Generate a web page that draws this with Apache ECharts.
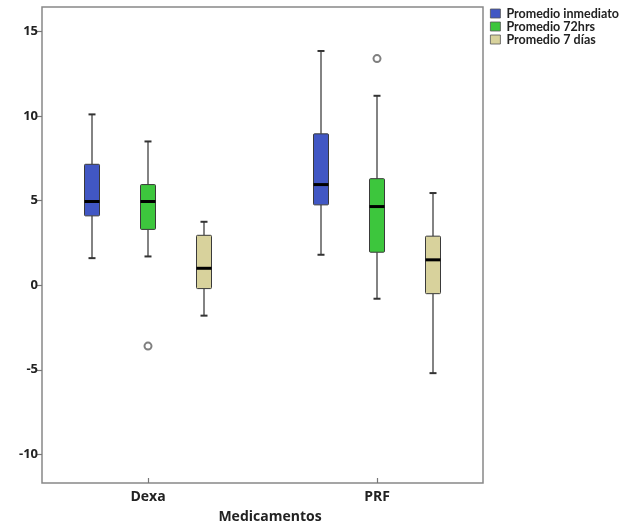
<!DOCTYPE html>
<html>
<head>
<meta charset="utf-8">
<script src="https://cdn.jsdelivr.net/npm/echarts@6/dist/echarts.min.js"></script>
<style>
  html, body { margin: 0; padding: 0; background: #fff; }
  #chart { width: 625px; height: 529px; }
</style>
</head>
<body>
<div id="chart"></div>
<script>
// categorías del eje X
const categories = ['Dexa', 'PRF']
const seriesNames = ['Promedio inmediato', 'Promedio 72hrs', 'Promedio 7 días']
const seriesColors = ['#4157c4', '#3dc63d', '#d8d29c']

// [min, Q1, mediana, Q3, max] por categoría
const inmediato = [
  [1.6, 4.1, 4.95, 7.15, 10.1],
  [1.8, 4.75, 5.95, 8.95, 13.85]
]
const horas72 = [
  [1.7, 3.3, 4.95, 5.95, 8.5],
  [-0.8, 1.95, 4.65, 6.3, 11.2]
]
const dias7 = [
  [-1.8, -0.2, 1.0, 2.95, 3.75],
  [-5.2, -0.5, 1.5, 2.9, 5.45]
]
// valores atípicos (serie 72hrs)
const atipicos72 = [
  ['Dexa', -3.6],
  ['PRF', 13.4]
]
const yTicks = [-10, -5, 0, 5, 10, 15]

const chart = echarts.init(document.getElementById('chart'))

// desplazamiento en px de cada caja respecto al centro de la categoría
const offsets = [-56, 0, 56]
const boxWidth = 15
const capWidth = 7

function renderBox(offset) {
  return function (params, api) {
    const x = api.value(0)
    const cx = api.coord([x, 0])[0] + offset
    const yMin = api.coord([x, api.value(1)])[1]
    const yQ1 = api.coord([x, api.value(2)])[1]
    const yMed = api.coord([x, api.value(3)])[1]
    const yQ3 = api.coord([x, api.value(4)])[1]
    const yMax = api.coord([x, api.value(5)])[1]
    const whisker = { stroke: '#5a5a5a', lineWidth: 1.5 }
    const cap = { stroke: '#333', lineWidth: 2 }
    return {
      type: 'group',
      children: [
        { type: 'line', shape: { x1: cx, y1: yMax, x2: cx, y2: yQ3 }, style: whisker },
        { type: 'line', shape: { x1: cx, y1: yQ1, x2: cx, y2: yMin }, style: whisker },
        { type: 'line', shape: { x1: cx - capWidth / 2, y1: yMax, x2: cx + capWidth / 2, y2: yMax }, style: cap },
        { type: 'line', shape: { x1: cx - capWidth / 2, y1: yMin, x2: cx + capWidth / 2, y2: yMin }, style: cap },
        {
          type: 'rect',
          shape: { x: cx - boxWidth / 2, y: yQ3, width: boxWidth, height: yQ1 - yQ3, r: 1 },
          style: { fill: api.visual('color'), stroke: '#3a3a3a', lineWidth: 1 }
        },
        { type: 'line', shape: { x1: cx - boxWidth / 2, y1: yMed, x2: cx + boxWidth / 2, y2: yMed }, style: { stroke: '#000', lineWidth: 3 } }
      ]
    }
  }
}

const boxData = [inmediato, horas72, dias7]

const series = boxData.map((rows, i) => ({
  name: seriesNames[i],
  type: 'custom',
  xAxisIndex: 0,
  yAxisIndex: 0,
  itemStyle: { color: seriesColors[i] },
  encode: { x: 0, y: [1, 2, 3, 4, 5] },
  data: rows.map((r, idx) => [idx, ...r]),
  renderItem: renderBox(offsets[i]),
  silent: true
}))

series.push({
  name: 'atipicos',
  type: 'scatter',
  xAxisIndex: 0,
  yAxisIndex: 0,
  symbol: 'emptyCircle',
  symbolSize: 7,
  itemStyle: { color: '#5f5f5f', borderWidth: 1.2 },
  data: atipicos72,
  silent: true
})

const option = {
  animation: false,
  textStyle: { fontFamily: 'Open Sans' },
  legend: {
    data: seriesNames,
    orient: 'vertical',
    left: 485,
    top: 2,
    icon: 'rect',
    itemWidth: 10,
    itemHeight: 9,
    itemGap: 0,
    itemStyle: { borderColor: '#555', borderWidth: 0.8 },
    textStyle: { fontFamily: 'Lato', fontWeight: 'bold', fontSize: 12.5, color: '#222', lineHeight: 12, padding: [0, 0, 0, 1] },
    selectedMode: false
  },
  grid: [
    // rejilla de datos
    { left: 33.5, width: 458, top: 7, height: 476 },
    // marco del gráfico
    { left: 42, width: 441, top: 7, height: 476, show: true, borderColor: '#888', borderWidth: 1.5, backgroundColor: 'transparent' }
  ],
  xAxis: [
    {
      gridIndex: 0,
      type: 'category',
      data: categories,
      axisLine: { show: false, onZero: false },
      axisTick: { show: true, alignWithLabel: true, length: 5, lineStyle: { color: '#777', width: 1.2 } },
      axisLabel: { margin: 12, fontFamily: 'Open Sans', fontWeight: 'bold', fontSize: 14, color: '#222' },
      splitLine: { show: false },
      name: 'Medicamentos',
      nameLocation: 'middle',
      nameGap: 32,
      nameTextStyle: { fontFamily: 'Open Sans', fontWeight: 'bold', fontSize: 14, color: '#222', padding: [0, 0, 0, 15] }
    },
    { gridIndex: 1, type: 'value', show: false }
  ],
  yAxis: [
    {
      gridIndex: 0,
      type: 'value',
      min: -11.4,
      max: 16.45,
      offset: -8.5,
      axisLine: { show: false },
      axisTick: { show: true, length: 5, customValues: yTicks, lineStyle: { color: '#777', width: 1.2 } },
      axisLabel: { margin: 4, customValues: yTicks, fontFamily: 'Open Sans', fontWeight: 'bold', fontSize: 13, color: '#222' },
      splitLine: { show: false }
    },
    { gridIndex: 1, type: 'value', show: false }
  ],
  series
}

chart.setOption(option)
</script>
</body>
</html>
